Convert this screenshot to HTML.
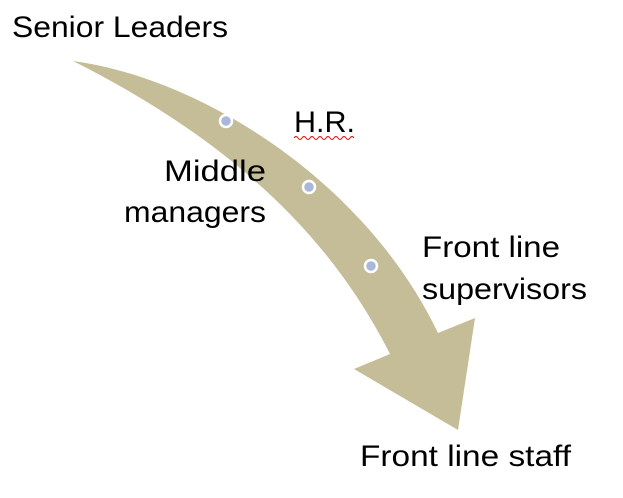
<!DOCTYPE html>
<html><head><style>
html,body{margin:0;padding:0;background:#fff;}
svg{display:block}
text{font-family:"Liberation Sans",sans-serif;font-size:30px;fill:#000}
</style></head><body>
<svg width="623" height="498" viewBox="0 0 623 498">
<path d="M73,61 C200,78 365,180 438,333 L475,318 L458,430 L354,369 L390,354 C330,235 230,140 73,61 Z" fill="#c4bd97"/>
<circle cx="226" cy="121" r="6" fill="#a9b8d9" stroke="#fff" stroke-width="2.5"/>
<circle cx="309" cy="187" r="6" fill="#a9b8d9" stroke="#fff" stroke-width="2.5"/>
<circle cx="371" cy="266" r="6" fill="#a9b8d9" stroke="#fff" stroke-width="2.5"/>
<text x="12" y="37" textLength="216" lengthAdjust="spacingAndGlyphs">Senior Leaders</text>
<text x="294" y="132" textLength="61" lengthAdjust="spacingAndGlyphs">H.R.</text>
<path d="M294,138 q2,-3 4,0 t4,0 t4,0 t4,0 t4,0 t4,0 t4,0 t4,0 t4,0 t4,0 t4,0 t4,0 t4,0 t4,0 t4,0" stroke="#e00" stroke-width="1" fill="none"/>
<text x="164" y="181" textLength="102" lengthAdjust="spacingAndGlyphs">Middle</text>
<text x="124" y="222" textLength="142" lengthAdjust="spacingAndGlyphs">managers</text>
<text x="422" y="257" textLength="138" lengthAdjust="spacingAndGlyphs">Front line</text>
<text x="422" y="299" textLength="165" lengthAdjust="spacingAndGlyphs">supervisors</text>
<text x="360" y="466" textLength="211" lengthAdjust="spacingAndGlyphs">Front line staff</text>
</svg>
</body></html>
